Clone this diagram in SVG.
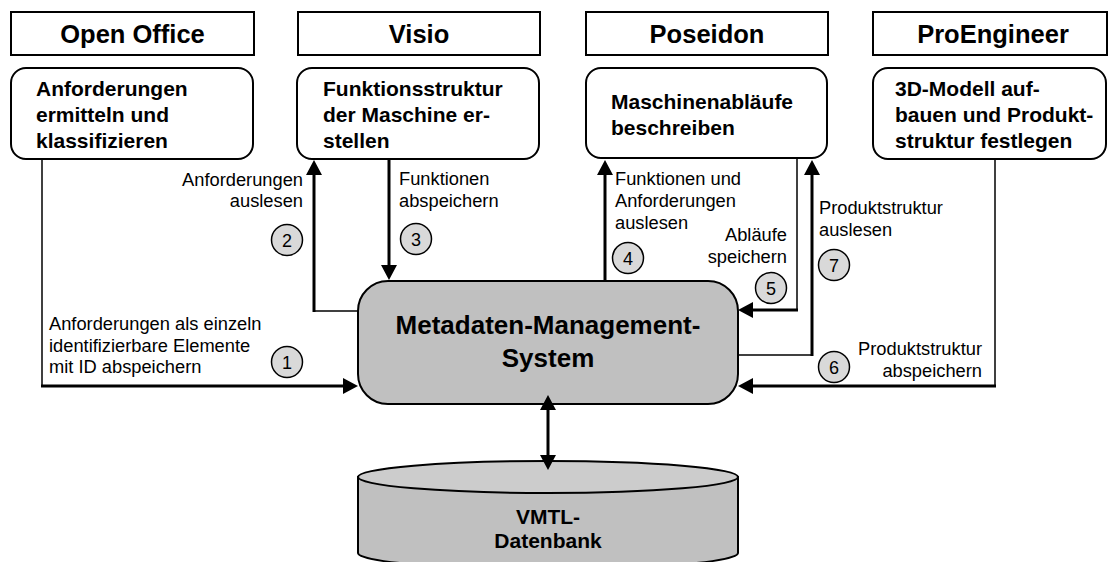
<svg xmlns="http://www.w3.org/2000/svg" width="1108" height="562" viewBox="0 0 1108 562">
  <style>
    .tool { fill: #ffffff; stroke: #000000; stroke-width: 2; }
    .task { fill: #ffffff; stroke: #000000; stroke-width: 2; }
    .title { font-family: "Liberation Sans", Arial, sans-serif; font-weight: bold; font-size: 25.5px; fill: #000; text-anchor: middle; }
    .btext { font-family: "Liberation Sans", Arial, sans-serif; font-weight: bold; font-size: 21px; fill: #000; }
    .label { font-family: "Liberation Sans", Arial, sans-serif; font-size: 18.3px; fill: #000; }
    .end { text-anchor: end; }
    .num { font-family: "Liberation Sans", Arial, sans-serif; font-size: 18px; fill: #000; text-anchor: middle; }
    .step { fill: #d9d9d9; stroke: #000; stroke-width: 1.5; }
    .thin { fill: none; stroke: #000; stroke-width: 1.5; }
    .thick { fill: none; stroke: #000; stroke-width: 3; }
    .arrow { marker-end: url(#head); }
  </style>
  <defs>
    <marker id="head" viewBox="0 0 15 16" markerWidth="15" markerHeight="16" refX="4" refY="8" orient="auto-start-reverse" markerUnits="userSpaceOnUse">
      <path d="M0,0 L15,8 L0,16 z" fill="#000"/>
    </marker>
  </defs>

  <!-- tool headers and work steps -->
  <g id="open-office">
    <rect class="tool" x="11" y="12" width="243" height="43"/>
    <text class="title" x="132.5" y="43">Open Office</text>
    <rect class="task" x="11" y="68" width="242" height="91" rx="15"/>
    <text class="btext" x="36" y="96">Anforderungen</text>
    <text class="btext" x="36" y="122">ermitteln und</text>
    <text class="btext" x="36" y="148">klassifizieren</text>
  </g>

  <g id="visio">
    <rect class="tool" x="298" y="12" width="242" height="43"/>
    <text class="title" x="419" y="43">Visio</text>
    <rect class="task" x="297" y="68" width="242" height="91" rx="15"/>
    <text class="btext" x="323" y="96">Funktionsstruktur</text>
    <text class="btext" x="323" y="122">der Maschine er-</text>
    <text class="btext" x="323" y="148">stellen</text>
  </g>

  <g id="poseidon">
    <rect class="tool" x="586" y="12" width="242" height="43"/>
    <text class="title" x="707" y="43">Poseidon</text>
    <rect class="task" x="586" y="68" width="241" height="90" rx="15"/>
    <text class="btext" x="611" y="109">Maschinenabläufe</text>
    <text class="btext" x="611" y="135">beschreiben</text>
  </g>

  <g id="proengineer">
    <rect class="tool" x="873" y="12" width="234" height="43"/>
    <text class="title" x="993" y="43">ProEngineer</text>
    <rect class="task" x="873" y="68" width="233" height="91" rx="15"/>
    <text class="btext" x="895" y="96">3D-Modell auf-</text>
    <text class="btext" x="895" y="122">bauen und Produkt-</text>
    <text class="btext" x="895" y="148">struktur festlegen</text>
  </g>

  <!-- central system -->
  <g id="mms">
    <rect x="358" y="281" width="380" height="123" rx="30" fill="#c0c0c0" stroke="#000" stroke-width="2"/>
    <text class="title" style="font-size:26px" x="548" y="334">Metadaten-Management-</text>
    <text class="title" style="font-size:26px" x="548" y="367">System</text>
  </g>

  <!-- database cylinder -->
  <g id="database">
    <path d="M358,477 V553 A190,16 0 0 0 738,553 V477 z" fill="#c0c0c0" stroke="#000" stroke-width="2"/>
    <ellipse cx="548" cy="477" rx="190" ry="16" fill="#cccccc" stroke="#000" stroke-width="2"/>
    <text class="title" style="font-size:21px" x="548" y="524">VMTL-</text>
    <text class="title" style="font-size:21px" x="548" y="548">Datenbank</text>
  </g>

  <!-- data flows -->
  <g id="connectors">
    <!-- 1: requirements into the system -->
    <path class="thin" d="M42,159 V386"/>
    <path class="thick arrow" d="M41,386 H347"/>
    <!-- 2: requirements read by Visio -->
    <path class="thin" d="M358,311 H314"/>
    <path class="thick arrow" d="M314,312 V171"/>
    <!-- 3: functions stored -->
    <path class="thick arrow" d="M389,159 V269"/>
    <!-- 4: functions and requirements read by Poseidon -->
    <path class="thick arrow" d="M605,281 V171"/>
    <!-- 5: processes stored -->
    <path class="thin" d="M797,158 V310"/>
    <path class="thick arrow" d="M798,310 H749"/>
    <!-- 7: product structure read by Poseidon -->
    <path class="thin" d="M738,355 H812"/>
    <path class="thick arrow" d="M812,356 V171"/>
    <!-- 6: product structure stored -->
    <path class="thin" d="M995,159 V386"/>
    <path class="thick arrow" d="M996,386 H749"/>
    <!-- system <-> database -->
    <path class="thick" d="M548,406 V459" marker-start="url(#head)" marker-end="url(#head)"/>
  </g>

  <!-- flow labels -->
  <g id="labels">
    <text class="label end" x="303" y="186">Anforderungen</text>
    <text class="label end" x="303" y="207">auslesen</text>
    <text class="label" x="49" y="330">Anforderungen als einzeln</text>
    <text class="label" x="49" y="351.5">identifizierbare Elemente</text>
    <text class="label" x="49" y="372.5">mit ID abspeichern</text>
    <text class="label" x="399" y="185">Funktionen</text>
    <text class="label" x="399" y="207">abspeichern</text>
    <text class="label" x="615" y="185">Funktionen und</text>
    <text class="label" x="615" y="207">Anforderungen</text>
    <text class="label" x="615" y="229">auslesen</text>
    <text class="label end" x="787" y="241">Abläufe</text>
    <text class="label end" x="787" y="263">speichern</text>
    <text class="label" x="819" y="214">Produktstruktur</text>
    <text class="label" x="819" y="236">auslesen</text>
    <text class="label end" x="982" y="355">Produktstruktur</text>
    <text class="label end" x="982" y="377">abspeichern</text>
  </g>

  <!-- step numbers -->
  <g id="steps">
    <circle class="step" cx="287" cy="362" r="15.5"/><text class="num" x="287" y="368.5">1</text>
    <circle class="step" cx="287" cy="240" r="15.5"/><text class="num" x="287" y="246.5">2</text>
    <circle class="step" cx="416" cy="239" r="15.5"/><text class="num" x="416" y="245.5">3</text>
    <circle class="step" cx="628" cy="258" r="15.5"/><text class="num" x="628" y="264.5">4</text>
    <circle class="step" cx="771" cy="288" r="15.5"/><text class="num" x="771" y="294.5">5</text>
    <circle class="step" cx="834" cy="367" r="15.5"/><text class="num" x="834" y="373.5">6</text>
    <circle class="step" cx="834" cy="265" r="15.5"/><text class="num" x="834" y="271.5">7</text>
  </g>
</svg>
